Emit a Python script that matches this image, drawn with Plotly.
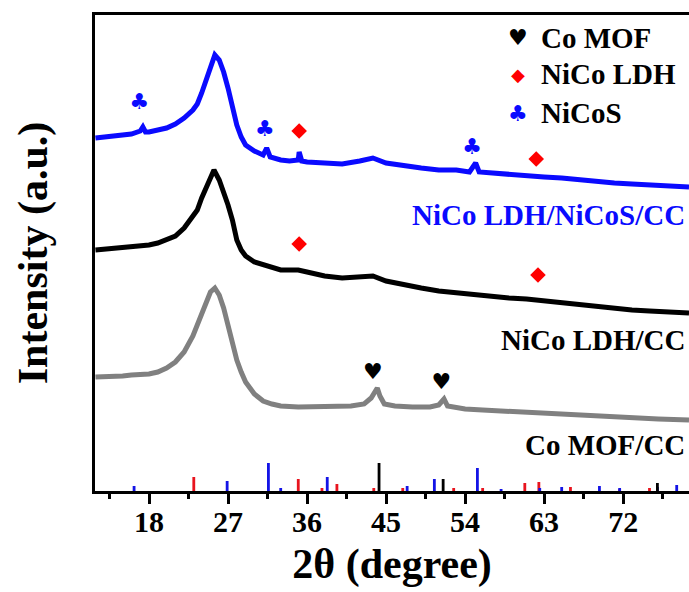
import plotly.graph_objects as go

# ---- XRD patterns (2θ in degrees, intensity in arbitrary units) ----
tt_nicos = [11.9, 13, 14, 15, 16, 17, 17.3, 17.6, 18, 19, 20, 21, 22, 23, 23.5, 24, 24.5, 25,
            25.5, 26, 26.5, 27, 27.5, 28, 28.5, 29, 30, 31, 31.4, 31.8, 33, 34, 35, 35.1, 35.4,
            36, 38, 40, 42, 43.5, 45, 47, 49, 51, 53, 54.5, 55.2, 55.6, 57, 59, 61, 63, 65, 67,
            69, 71, 73, 75, 77, 79.5]
i_nicos = [353, 354, 355, 356, 357, 360, 364, 359, 359, 361, 363, 367, 373, 381, 387, 398, 411,
           426, 436, 431, 419, 403, 386, 366, 354, 346, 340, 336, 343, 334, 331, 330, 331, 339,
           330, 329, 328, 327, 330, 333, 328, 325, 323, 321, 321, 319, 328, 319, 318, 316, 315,
           314, 313, 311, 309, 308, 307, 306, 305, 304]

tt_ldh = [11.9, 13, 14, 15, 16, 17, 18, 19, 20, 21, 22, 23, 23.5, 24, 24.5, 25, 25.4, 26, 26.5,
          27, 27.5, 28, 28.5, 29, 30, 31, 32, 33, 34, 35, 36, 38, 40, 42, 43.5, 45, 47, 49, 51,
          53, 55, 57, 59, 61, 63, 65, 67, 69, 71, 73, 75, 77, 79.5]
i_ldh = [241, 242, 242, 243, 244, 245, 246, 248, 251, 255, 263, 274, 281, 293, 304, 315, 321,
         311, 299, 286, 271, 251, 241, 235, 229, 226, 223, 221, 221, 221, 219, 215, 213, 214,
         215, 210, 206, 203, 200, 198, 196, 195, 193, 192, 190, 188, 186, 184, 182, 181, 180,
         179, 178]

tt_mof = [11.9, 13, 14, 15, 16, 17, 18, 19, 20, 21, 22, 23, 23.5, 24, 24.5, 25, 25.5, 26, 26.5,
          27, 27.5, 28, 28.5, 29, 30, 31, 32, 33, 35, 37, 39, 41, 42.5, 43.3, 44, 44.3, 44.8, 46,
          48, 50, 51, 51.6, 52, 54, 56, 58, 60, 62, 64, 66, 68, 70, 72, 74, 76, 79.5]
i_mof = [114, 114, 115, 115, 116, 116, 117, 119, 123, 129, 139, 155, 166, 179, 191, 199, 203,
         196, 183, 166, 148, 131, 119, 109, 97, 90, 87, 85, 84, 84, 84, 85, 87, 93, 103, 95, 87,
         85, 84, 84, 86, 92, 85, 82, 81, 80, 79, 78, 77, 76, 75, 74, 74, 73, 72, 71]

# ---- Standard reference patterns (stick positions and relative heights) ----
ref_nicos_pos = [16.3, 26.9, 31.6, 33.0, 38.3, 47.4, 50.5, 55.4, 58.1, 62.5, 65.0, 69.3, 71.6,
                 75.9, 78.1]
ref_nicos_h = [5, 10, 28, 3, 14, 5, 12, 23, 2, 3, 4, 5, 3, 4, 6]
ref_ldh_pos = [23.1, 35.0, 37.7, 39.4, 43.6, 46.9, 52.7, 56.0, 60.8, 62.4, 66.0, 71.6, 75.0]
ref_ldh_h = [14, 12, 3, 7, 3, 3, 3, 3, 8, 9, 4, 2, 3]
ref_mof_pos = [44.2, 51.5, 75.9]
ref_mof_h = [28, 12, 8]

# ---- Phase marks placed over the identified reflections ----
club_pos = [16.9, 31.2, 54.8]
club_y = [388, 361, 343]
diamond_pos_nicos = [35.1, 62.1]
diamond_y_nicos = [360, 332]
diamond_pos_ldh = [35.1, 62.3]
diamond_y_ldh = [247, 216]
heart_pos = [43.5, 51.3]
heart_y = [118, 108]

sample_names = ["NiCo LDH/NiCoS/CC", "NiCo LDH/CC", "Co MOF/CC"]
sample_label_y = [276, 151, 46]
phase_names = ["Co MOF", "NiCo LDH", "NiCoS"]

BLUE = "#0a0aff"
BLACK = "#000000"
GRAY = "#808080"
RED = "#ff0000"
SERIF = "Liberation Serif"
SYMF = "DejaVu Sans"


def bold(size, color=BLACK):
    return dict(family=SERIF, size=size, color=color, weight="bold")


fig = go.Figure()

for tt, inten, col in [(tt_mof, i_mof, GRAY), (tt_ldh, i_ldh, BLACK), (tt_nicos, i_nicos, BLUE)]:
    fig.add_trace(go.Scatter(x=tt, y=inten, mode="lines",
                             line=dict(color=col, width=5), hoverinfo="skip"))

for pos, h, col in [(ref_ldh_pos, ref_ldh_h, "#e8141e"), (ref_nicos_pos, ref_nicos_h, "#1414e6"),
                    (ref_mof_pos, ref_mof_h, BLACK)]:
    fig.add_trace(go.Bar(x=pos, y=h, width=0.32, marker=dict(color=col, line=dict(width=0)),
                         hoverinfo="skip"))

fig.add_trace(go.Scatter(x=club_pos, y=club_y, mode="text", text=["♣"] * len(club_pos),
                         textfont=dict(family=SYMF, size=22, color=BLUE), hoverinfo="skip"))
fig.add_trace(go.Scatter(x=diamond_pos_nicos + diamond_pos_ldh, y=diamond_y_nicos + diamond_y_ldh,
                         mode="markers", marker=dict(symbol="diamond", size=12, color=RED),
                         hoverinfo="skip"))
fig.add_trace(go.Scatter(x=heart_pos, y=heart_y, mode="text", text=["♥"] * len(heart_pos),
                         textfont=dict(family=SYMF, size=22, color=BLACK), hoverinfo="skip"))

annotations = []
for name, y, col in zip(sample_names, sample_label_y, [BLUE, BLACK, BLACK]):
    annotations.append(dict(x=79.3, y=y, xref="x", yref="y", text=name,
                            showarrow=False, xanchor="right", yanchor="middle",
                            font=bold(29, col)))

legend_syms = [("♥", BLACK, 22), ("◆", RED, 18), ("♣", BLUE, 22)]
legend_rows = [0.952, 0.876, 0.794]
for (sym, col, sz), name, yp in zip(legend_syms, phase_names, legend_rows):
    annotations.append(dict(x=0.712, y=yp, xref="paper", yref="paper", text=sym,
                            showarrow=False, xanchor="center", yanchor="middle",
                            font=dict(family=SYMF, size=sz, color=col)))
    annotations.append(dict(x=0.747, y=yp, xref="paper", yref="paper", text=name,
                            showarrow=False, xanchor="left", yanchor="middle",
                            font=bold(29)))

fig.update_layout(
    width=689, height=592,
    margin=dict(l=95, r=0, t=15, b=101),
    paper_bgcolor="white", plot_bgcolor="white",
    showlegend=False, barmode="overlay",
    annotations=annotations,
    xaxis=dict(range=[11.85, 79.5], tick0=0, dtick=9, ticks="outside", ticklen=10, tickwidth=3,
               tickcolor=BLACK, showline=True, linewidth=3, linecolor=BLACK, mirror=True,
               showgrid=False, zeroline=False,
               minor=dict(dtick=4.5, tick0=0, ticks="outside", ticklen=5, tickwidth=3,
                          tickcolor=BLACK, showgrid=False),
               tickfont=bold(30), ticklabelstandoff=-8,
               title=dict(text="2θ (degree)", standoff=12, font=bold(42))),
    yaxis=dict(range=[0, 476], showticklabels=False, ticks="", showline=True, linewidth=3,
               linecolor=BLACK, showgrid=False, zeroline=False,
               title=dict(text="Intensity (a.u.)", standoff=32, font=bold(42))),
)

fig.write_html("out.html")
